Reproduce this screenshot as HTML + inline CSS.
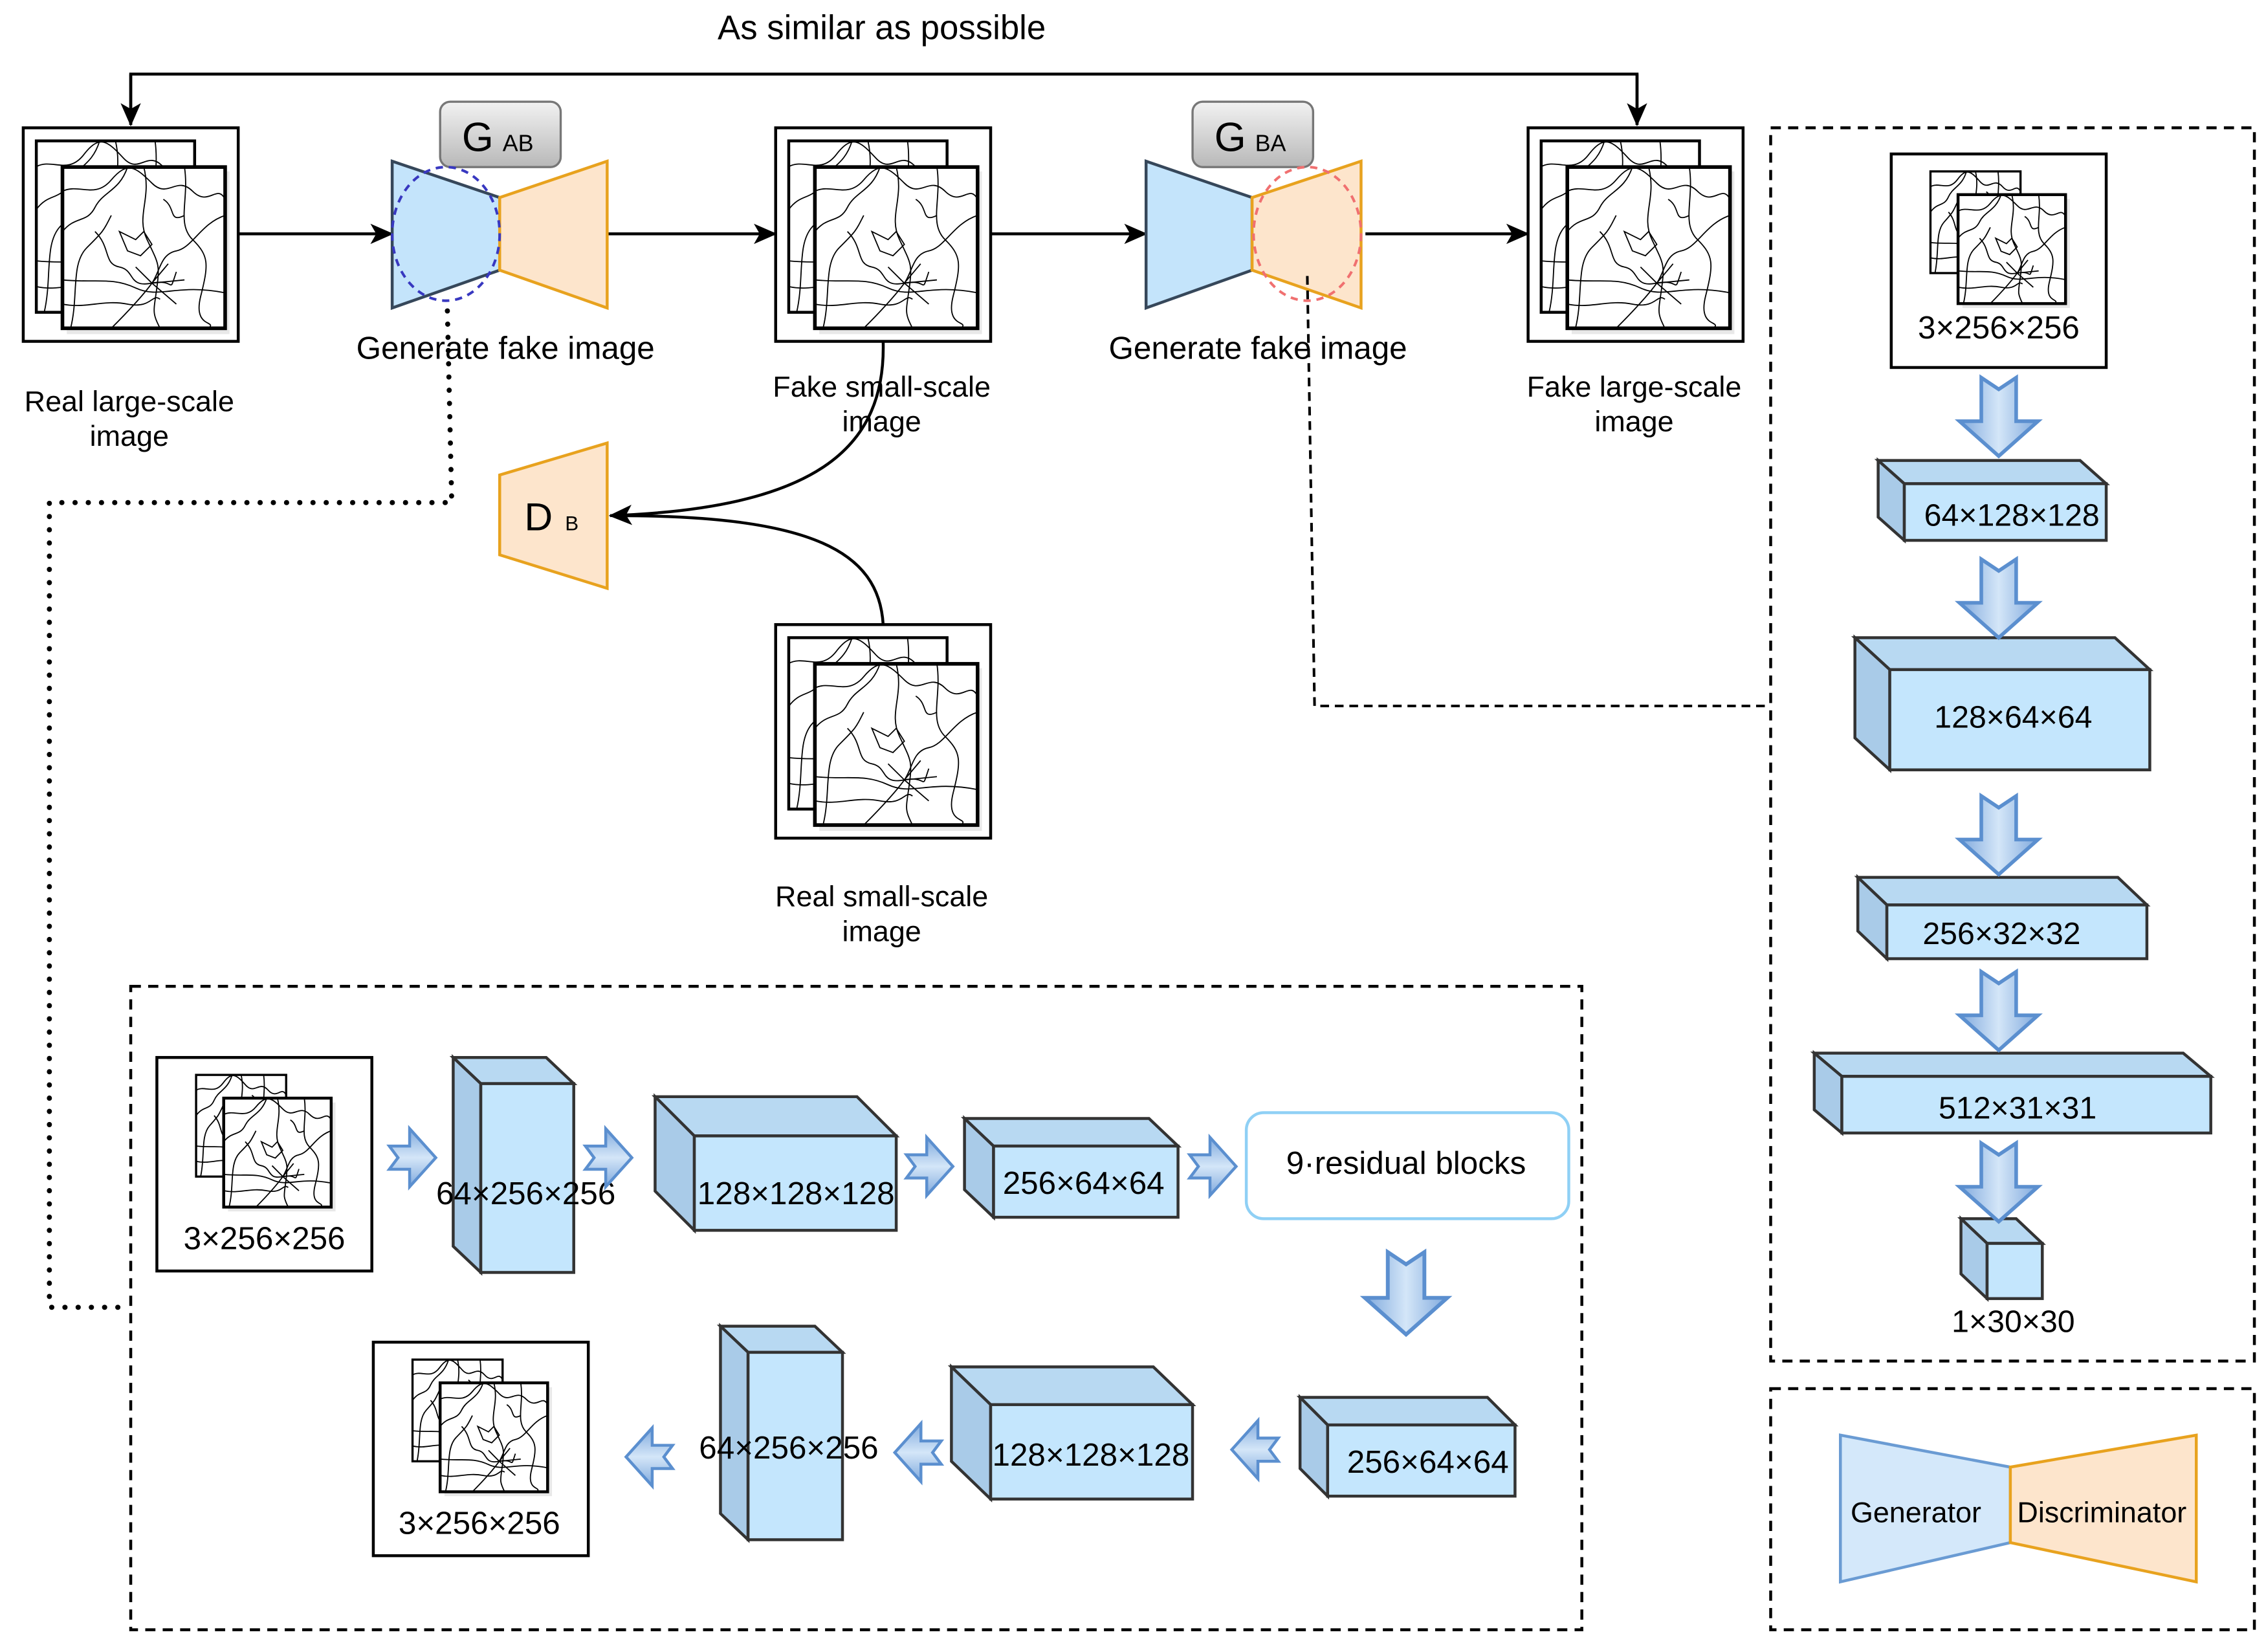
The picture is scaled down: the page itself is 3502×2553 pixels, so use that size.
<!DOCTYPE html>
<html><head><meta charset="utf-8"><style>
html,body{margin:0;padding:0;background:#fff;}
svg{display:block;}
text{font-family:"Liberation Sans",Arial,sans-serif;fill:#000;}
</style></head><body>
<svg width="3502" height="2553" viewBox="0 0 1560 1137.3" preserveAspectRatio="none" xmlns="http://www.w3.org/2000/svg">
<defs>
<linearGradient id="ag" x1="0" y1="0" x2="1" y2="0"><stop offset="0" stop-color="#7fa9dd"/><stop offset="0.5" stop-color="#d4e6f8"/><stop offset="1" stop-color="#7fa9dd"/></linearGradient>
<linearGradient id="ah" x1="0" y1="0" x2="0" y2="1"><stop offset="0" stop-color="#7fa9dd"/><stop offset="0.5" stop-color="#d4e6f8"/><stop offset="1" stop-color="#7fa9dd"/></linearGradient>
<linearGradient id="gb" x1="0" y1="0" x2="0" y2="1"><stop offset="0" stop-color="#f2f2f2"/><stop offset="1" stop-color="#b8b8b8"/></linearGradient>
<g id="da"><path d="M-12,0 L0,8 L12,0 L12,30 L27,30 L0,54 L-27,30 L-12,30Z" fill="url(#ag)" stroke="#5b8fcf" stroke-width="2.5"/></g>
<g id="ra"><path d="M0,-8 L14,-8 L14,-20 L32,0 L14,20 L14,8 L0,8 L6,0Z" fill="url(#ah)" stroke="#5b8fcf" stroke-width="2"/></g>
<g id="mapd" fill="none" stroke="#000" stroke-width="1.8">
<path vector-effect="non-scaling-stroke" d="M0,15 C10,10 20,20 30,8 S45,0 55,10 70,5 80,15 95,10 100,20"/>
<path vector-effect="non-scaling-stroke" d="M0,40 C8,30 15,35 20,25 S35,15 40,0"/>
<path vector-effect="non-scaling-stroke" d="M5,100 C10,80 5,60 15,50 S25,40 30,30"/>
<path vector-effect="non-scaling-stroke" d="M20,40 C30,50 25,60 35,62 S40,75 55,72 65,80 70,65"/>
<path vector-effect="non-scaling-stroke" d="M0,70 C20,72 30,68 45,75 S70,72 100,78"/>
<path vector-effect="non-scaling-stroke" d="M50,0 C55,20 45,30 52,45 S60,60 58,75 55,90 60,100"/>
<path vector-effect="non-scaling-stroke" d="M100,30 C85,35 80,50 70,52 S60,65 55,72 40,90 30,100"/>
<path vector-effect="non-scaling-stroke" d="M75,0 C78,20 70,35 80,45 S90,60 85,80 95,95 90,100"/>
<path vector-effect="non-scaling-stroke" d="M35,40 L45,45 L50,40 L55,48 L48,55 L40,52Z"/>
<path vector-effect="non-scaling-stroke" d="M0,85 C15,88 25,82 40,85 S55,78 60,82"/>
<path vector-effect="non-scaling-stroke" d="M62,20 C70,25 65,35 75,30"/>
<path vector-effect="non-scaling-stroke" d="M55,72 L65,60 M55,72 L75,70 M55,72 L70,85 M55,72 L45,62"/>
</g>
<g id="img">
<rect x="0" y="0" width="148" height="147" fill="#fff" stroke="#000" stroke-width="2"/>
<rect x="9" y="9" width="109" height="118" fill="#fff" stroke="#000" stroke-width="2"/>
<use href="#mapd" transform="translate(9,9) scale(1.09,1.18)"/>
<rect x="30" y="30" width="112" height="112" fill="#d8d8d8" opacity="0.6"/>
<rect x="27" y="27" width="112" height="111" fill="#fff" stroke="#000" stroke-width="2.5"/>
<use href="#mapd" transform="translate(27,27) scale(1.12,1.11)"/>
</g>
<g id="img2">
<rect x="0" y="0" width="148" height="147" fill="#fff" stroke="#000" stroke-width="2"/>
<rect x="27" y="12" width="62" height="70" fill="#fff" stroke="#000" stroke-width="1.5"/>
<use href="#mapd" transform="translate(27,12) scale(0.62,0.7)"/>
<rect x="49" y="31" width="74" height="75" fill="#d8d8d8" opacity="0.6"/>
<rect x="46" y="28" width="74" height="75" fill="#fff" stroke="#000" stroke-width="2"/>
<use href="#mapd" transform="translate(46,28) scale(0.74,0.75)"/>
</g>
<marker id="arr2" markerWidth="16" markerHeight="14" refX="15" refY="7" orient="auto" markerUnits="userSpaceOnUse"><path d="M0,0 L16,7 L0,14 L4,7Z" fill="#000"/></marker>
</defs>

<!-- top feedback -->
<text x="607" y="27" font-size="23.5" text-anchor="middle">As similar as possible</text>
<path d="M90,86 V51 H1127 V86" fill="none" stroke="#000" stroke-width="2"/>
<path d="M90,51 V86" stroke="#000" stroke-width="2" marker-end="url(#arr2)"/>
<path d="M1127,51 V86" stroke="#000" stroke-width="2" marker-end="url(#arr2)"/>

<!-- images -->
<use href="#img" transform="translate(16,88)"/>
<use href="#img" transform="translate(534,88)"/>
<use href="#img" transform="translate(1052,88)"/>
<use href="#img" transform="translate(534,430)"/>

<!-- horizontal arrows -->
<g stroke="#000" stroke-width="2" fill="none">
<path d="M164,161 H270" marker-end="url(#arr2)"/>
<path d="M418,161 H534" marker-end="url(#arr2)"/>
<path d="M682,161 H789" marker-end="url(#arr2)"/>
<path d="M940,161 H1052" marker-end="url(#arr2)"/>
</g>

<!-- GAB -->
<rect x="303" y="70" width="83" height="45" rx="7" fill="url(#gb)" stroke="#777" stroke-width="1.5"/>
<text x="318" y="104" font-size="28">G</text><text x="346" y="104" font-size="16">AB</text>
<path d="M270,111 L344,136 L344,186 L270,212Z" fill="#c4e4fb" stroke="#36475a" stroke-width="2"/>
<path d="M344,136 L418,111 L418,212 L344,186Z" fill="#fde5cc" stroke="#e8a21e" stroke-width="2"/>
<ellipse cx="307" cy="161" rx="37" ry="46" fill="none" stroke="#3838c0" stroke-width="1.8" stroke-dasharray="5,4"/>
<!-- GBA -->
<rect x="821" y="70" width="83" height="45" rx="7" fill="url(#gb)" stroke="#777" stroke-width="1.5"/>
<text x="836" y="104" font-size="28">G</text><text x="864" y="104" font-size="16">BA</text>
<path d="M789,111 L862,136 L862,186 L789,212Z" fill="#c4e4fb" stroke="#36475a" stroke-width="2"/>
<path d="M862,136 L937,111 L937,212 L862,186Z" fill="#fde5cc" stroke="#e8a21e" stroke-width="2"/>
<ellipse cx="900" cy="161" rx="37" ry="46" fill="none" stroke="#f07070" stroke-width="1.8" stroke-dasharray="5,4"/>

<!-- dotted / dashed connections -->
<path d="M308,214 L311,346 H34 V900 H90" fill="none" stroke="#000" stroke-width="3.5" stroke-dasharray="0.1,9" stroke-linecap="round"/>
<path d="M900,190 L905,486 H1218" fill="none" stroke="#000" stroke-width="1.8" stroke-dasharray="6,4"/>

<!-- labels -->
<g font-size="20" text-anchor="middle">
<text x="348" y="247" font-size="22">Generate fake image</text>
<text x="866" y="247" font-size="22">Generate fake image</text>
<text x="89" y="283">Real large-scale</text><text x="89" y="307">image</text>
<text x="607" y="273">Fake small-scale</text><text x="607" y="297">image</text>
<text x="1125" y="273">Fake large-scale</text><text x="1125" y="297">image</text>
<text x="607" y="624">Real small-scale</text><text x="607" y="648">image</text>
</g>

<!-- DB -->
<path d="M344,327 L418,305 L418,405 L344,382Z" fill="#fde5cc" stroke="#e8a21e" stroke-width="2"/>
<text x="361" y="365" font-size="27">D</text><text x="389" y="365" font-size="14">B</text>
<path d="M608,235 C610,310 560,350 420,355" fill="none" stroke="#000" stroke-width="2" marker-end="url(#arr2)"/>
<path d="M608,430 C605,380 560,355 425,355" fill="none" stroke="#000" stroke-width="2"/>

<!-- dashed boxes -->
<g fill="none" stroke="#000" stroke-width="2" stroke-dasharray="7,5">
<rect x="90" y="679" width="999" height="443"/>
<rect x="1219" y="88" width="333" height="849"/>
<rect x="1219" y="956" width="333" height="166"/>
</g>

<!-- right column -->
<use href="#img2" transform="translate(1302,106)"/>
<text x="1376" y="233" font-size="22" text-anchor="middle">3×256×256</text>
<g stroke="#333" stroke-width="2">
<path d="M1293,317 L1432,317 L1450,333 L1311,333Z" fill="#b8d9f2"/><path d="M1293,317 L1311,333 L1311,372 L1293,356Z" fill="#a9cbe8"/><rect x="1311" y="333" width="139" height="39" fill="#c4e6fd"/>
<path d="M1277,439 L1456,439 L1480,461 L1301,461Z" fill="#b8d9f2"/><path d="M1277,439 L1301,461 L1301,530 L1277,508Z" fill="#a9cbe8"/><rect x="1301" y="461" width="179" height="69" fill="#c4e6fd"/>
<path d="M1279,604 L1458,604 L1478,623 L1299,623Z" fill="#b8d9f2"/><path d="M1279,604 L1299,623 L1299,660 L1279,641Z" fill="#a9cbe8"/><rect x="1299" y="623" width="179" height="37" fill="#c4e6fd"/>
<path d="M1249,725 L1503,725 L1522,741 L1268,741Z" fill="#b8d9f2"/><path d="M1249,725 L1268,741 L1268,780 L1249,764Z" fill="#a9cbe8"/><rect x="1268" y="741" width="254" height="39" fill="#c4e6fd"/>
<path d="M1350,839 L1388,839 L1406,856 L1368,856Z" fill="#b8d9f2"/><path d="M1350,839 L1368,856 L1368,894 L1350,877Z" fill="#a9cbe8"/><rect x="1368" y="856" width="38" height="38" fill="#c4e6fd"/>
</g>
<g font-size="21.5" text-anchor="middle">
<text x="1385" y="362">64×128×128</text>
<text x="1386" y="501">128×64×64</text>
<text x="1378" y="650">256×32×32</text>
<text x="1389" y="770">512×31×31</text>
<text x="1386" y="917">1×30×30</text>
</g>
<use href="#da" transform="translate(1376,260)"/>
<use href="#da" transform="translate(1376,385)"/>
<use href="#da" transform="translate(1376,548)"/>
<use href="#da" transform="translate(1376,669)"/>
<use href="#da" transform="translate(1376,787)"/>

<!-- legend -->
<path d="M1267,988 L1384,1010 L1384,1062 L1267,1089Z" fill="#d4e8fa" stroke="#6a9bd3" stroke-width="2"/>
<path d="M1384,1010 L1512,988 L1512,1089 L1384,1062Z" fill="#fde5cc" stroke="#e8a21e" stroke-width="2"/>
<text x="1319" y="1048" font-size="20" text-anchor="middle">Generator</text>
<text x="1447" y="1048" font-size="20" text-anchor="middle">Discriminator</text>

<!-- bottom generator -->
<use href="#img2" transform="translate(108,728)"/>
<text x="182" y="860" font-size="22" text-anchor="middle">3×256×256</text>
<use href="#img2" transform="translate(257,924)"/>
<text x="330" y="1056" font-size="22" text-anchor="middle">3×256×256</text>
<g stroke="#333" stroke-width="2">
<path d="M312,728 L376,728 L395,746 L331,746Z" fill="#b8d9f2"/><path d="M312,728 L331,746 L331,876 L312,858Z" fill="#a9cbe8"/><rect x="331" y="746" width="64" height="130" fill="#c4e6fd"/>
<path d="M451,755 L590,755 L617,782 L478,782Z" fill="#b8d9f2"/><path d="M451,755 L478,782 L478,847 L451,820Z" fill="#a9cbe8"/><rect x="478" y="782" width="139" height="65" fill="#c4e6fd"/>
<path d="M664,770 L791,770 L811,789 L684,789Z" fill="#b8d9f2"/><path d="M664,770 L684,789 L684,838 L664,819Z" fill="#a9cbe8"/><rect x="684" y="789" width="127" height="49" fill="#c4e6fd"/>
<path d="M895,962 L1024,962 L1043,981 L914,981Z" fill="#b8d9f2"/><path d="M895,962 L914,981 L914,1030 L895,1011Z" fill="#a9cbe8"/><rect x="914" y="981" width="129" height="49" fill="#c4e6fd"/>
<path d="M655,941 L794,941 L821,967 L682,967Z" fill="#b8d9f2"/><path d="M655,941 L682,967 L682,1032 L655,1006Z" fill="#a9cbe8"/><rect x="682" y="967" width="139" height="65" fill="#c4e6fd"/>
<path d="M496,913 L561,913 L580,931 L515,931Z" fill="#b8d9f2"/><path d="M496,913 L515,931 L515,1060 L496,1042Z" fill="#a9cbe8"/><rect x="515" y="931" width="65" height="129" fill="#c4e6fd"/>
</g>
<rect x="858" y="766" width="222" height="73" rx="12" fill="#fff" stroke="#8fd0f5" stroke-width="2"/>
<g font-size="22" text-anchor="middle">
<text x="362" y="829">64×256×256</text>
<text x="548" y="829">128×128×128</text>
<text x="746" y="822">256×64×64</text>
<text x="968" y="808">9·residual blocks</text>
<text x="983" y="1014">256×64×64</text>
<text x="751" y="1009">128×128×128</text>
<text x="543" y="1004">64×256×256</text>
</g>
<use href="#ra" transform="translate(268,797)"/>
<use href="#ra" transform="translate(403,797)"/>
<use href="#ra" transform="translate(624,803)"/>
<use href="#ra" transform="translate(819,803)"/>
<use href="#da" transform="translate(968,862) scale(1.05,1.05)"/>
<use href="#ra" transform="translate(880,998) scale(-1,1)"/>
<use href="#ra" transform="translate(648,1000) scale(-1,1)"/>
<use href="#ra" transform="translate(463,1003) scale(-1,1)"/>
</svg>
</body></html>
